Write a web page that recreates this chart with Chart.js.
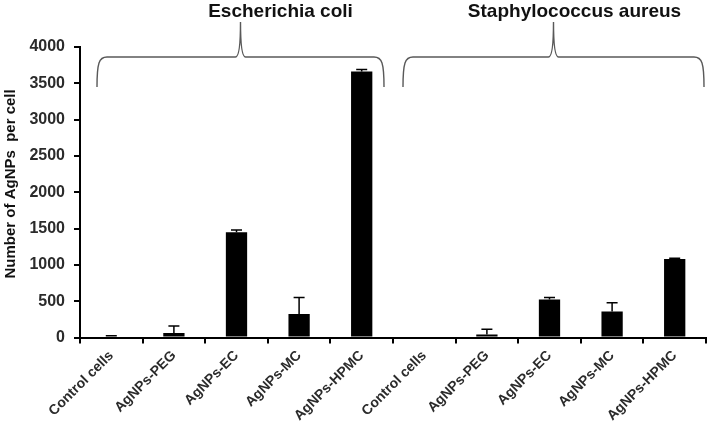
<!DOCTYPE html>
<html>
<head>
<meta charset="utf-8">
<script src="https://cdn.jsdelivr.net/npm/chart.js@4"></script>
<style>
html, body { margin: 0; padding: 0; background: #fff; }
#contenedor { width: 708px; height: 430px; }
</style>
</head>
<body>
<div id="contenedor"><canvas id="grafico"></canvas></div>
<script>
// datos
const categorias = ['Control cells', 'AgNPs-PEG', 'AgNPs-EC', 'AgNPs-MC', 'AgNPs-HPMC',
                    'Control cells', 'AgNPs-PEG', 'AgNPs-EC', 'AgNPs-MC', 'AgNPs-HPMC'];
const valoresEColi = [15, 63, 1448, 325, 3663];
const erroresEColi = [10, 97, 32, 225, 27];
const valoresSAureus = [0, 40, 523, 358, 1081];
const erroresSAureus = [0, 75, 27, 122, 9];
const grupos = ['Escherichia coli', 'Staphylococcus aureus'];
const ticksY = [0, 500, 1000, 1500, 2000, 2500, 3000, 3500, 4000];

const valores = valoresEColi.concat(valoresSAureus);
const errores = erroresEColi.concat(erroresSAureus);

const fuente = "'Liberation Sans', Arial, sans-serif";

/*
    barras de error solo hacia arriba
*/
const barrasError = {
    id: 'barrasError',
    afterDatasetsDraw(chart) {
        let ctx = chart.ctx;
        let escalaY = chart.scales.y;
        let meta = chart.getDatasetMeta(0);
        ctx.save();
        ctx.strokeStyle = '#000';
        ctx.lineWidth = 1.5;
        meta.data.forEach((barra, i) => {
            if (!errores[i]) return;
            let yTope = escalaY.getPixelForValue(valores[i] + errores[i]);
            ctx.beginPath();
            ctx.moveTo(barra.x, barra.y);
            ctx.lineTo(barra.x, yTope);
            ctx.moveTo(barra.x - 5.5, yTope);
            ctx.lineTo(barra.x + 5.5, yTope);
            ctx.stroke();
        });
        ctx.restore();
    }
};

/*
    llaves y titulos de cada grupo de bacterias
*/
const llaves = {
    id: 'llaves',
    afterDraw(chart) {
        let ctx = chart.ctx;
        let escalaX = chart.scales.x;
        let area = chart.chartArea;
        let ancho = escalaX.getPixelForValue(1) - escalaX.getPixelForValue(0);
        let margenes = [[17, 9], [10, 2]];
        let desplazTexto = [40, 21];
        let yH = area.top + 10;
        let yFin = area.top + 40;
        let yPico = area.top - 25;
        ctx.save();
        grupos.forEach((nombre, g) => {
            let ini = g * 5, fin = g * 5 + 4;
            let izq = escalaX.getPixelForValue(ini) - ancho / 2 + margenes[g][0];
            let der = escalaX.getPixelForValue(fin) + ancho / 2 - margenes[g][1];
            let medio = (izq + der) / 2;
            ctx.strokeStyle = '#595959';
            ctx.lineWidth = 1.4;
            ctx.beginPath();
            ctx.moveTo(izq, yFin);
            ctx.bezierCurveTo(izq, yH + 6, izq + 2, yH, izq + 10, yH);
            ctx.lineTo(medio - 5, yH);
            ctx.quadraticCurveTo(medio, yH, medio, yPico);
            ctx.quadraticCurveTo(medio, yH, medio + 5, yH);
            ctx.lineTo(der - 10, yH);
            ctx.bezierCurveTo(der - 2, yH, der, yH + 6, der, yFin);
            ctx.stroke();

            ctx.fillStyle = '#111';
            ctx.font = 'bold 19px ' + fuente;
            ctx.textAlign = 'center';
            ctx.textBaseline = 'alphabetic';
            ctx.fillText(nombre, medio + desplazTexto[g], 17);
        });
        ctx.restore();
    }
};

function generarGrafico() {
    let grafico = document.getElementById('grafico');
    new Chart(grafico, {
        type: 'bar',
        data: {
            labels: categorias,
            datasets: [{
                label: 'Number of AgNPs per cell',
                data: valores,
                backgroundColor: '#000',
                borderWidth: 0,
                barPercentage: 0.34,
                categoryPercentage: 1
            }]
        },
        options: {
            responsive: true,
            maintainAspectRatio: false,
            animation: false,
            layout: { padding: { top: 47, right: 2, left: 0, bottom: 0 } },
            plugins: {
                legend: { display: false },
                tooltip: { enabled: false }
            },
            scales: {
                x: {
                    grid: {
                        offset: true,
                        drawOnChartArea: false,
                        tickLength: 6,
                        color: '#000',
                        lineWidth: 2
                    },
                    border: { color: '#000', width: 2 },
                    ticks: {
                        color: '#2b2b2b',
                        font: { family: fuente, size: 14, weight: 'bold' },
                        minRotation: 45,
                        maxRotation: 45,
                        padding: 4
                    },
                    afterFit(escala) { escala.height = 92.5; }
                },
                y: {
                    min: 0,
                    max: 4000,
                    afterBuildTicks(escala) { escala.ticks = ticksY.map(v => ({ value: v })); },
                    grid: {
                        drawOnChartArea: false,
                        tickLength: 6,
                        color: '#000',
                        lineWidth: 2
                    },
                    border: { color: '#000', width: 2 },
                    ticks: {
                        color: '#2b2b2b',
                        font: { family: fuente, size: 16, weight: 'bold' },
                        padding: 9,
                        callback: (valor) => String(valor)
                    },
                    title: {
                        display: true,
                        text: '    Number of AgNPs  per cell',
                        color: '#111',
                        font: { family: fuente, size: 15, weight: 'bold' },
                        padding: { top: 2, bottom: 0 }
                    },
                    afterFit(escala) { escala.width = 80; }
                }
            }
        },
        plugins: [barrasError, llaves]
    });
}

generarGrafico();
</script>
</body>
</html>
